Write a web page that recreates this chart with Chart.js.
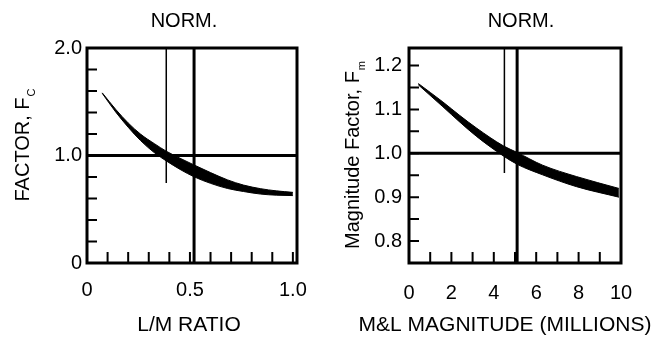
<!DOCTYPE html>
<html>
<head>
<meta charset="utf-8">
<script src="https://cdn.jsdelivr.net/npm/chart.js@4.4.1/dist/chart.umd.min.js"></script>
<style>
html, body { margin: 0; padding: 0; background: #fff; }
#wrap { position: relative; width: 659px; height: 338px; }
canvas { position: absolute; top: 0; }
</style>
</head>
<body>
<div id="wrap">
  <canvas id="lmChart" width="330" height="338" style="left:0px"></canvas>
  <canvas id="mgChart" width="329" height="338" style="left:330px"></canvas>
</div>
<script>
// left panel: L/M ratio -> factor Fc (band between two curves)
const lmRatio = [0.074, 0.14, 0.2, 0.26, 0.329, 0.385, 0.457, 0.52, 0.6, 0.683, 0.76, 0.844, 0.92, 1.0];
const fcUpper = [1.583, 1.428, 1.303, 1.199, 1.108, 1.04, 0.97, 0.912, 0.841, 0.773, 0.725, 0.691, 0.671, 0.657];
const fcLower = [1.578, 1.403, 1.263, 1.139, 1.023, 0.95, 0.865, 0.802, 0.741, 0.693, 0.665, 0.641, 0.631, 0.627];
const lmRange = [0, 1.02];
const fcRange = [0, 2.0];
const lmNormX = 0.52;
const lmMarkX = 0.385;
const lmMarkY = [2.0, 0.745];
const lmTickLabels = [0, 0.5, 1.0];
const fcTickLabels = [0, 1.0, 2.0];

// right panel: M&L magnitude -> magnitude factor Fm
const mlMagnitude = [0.44, 1.6, 2.4, 3.2, 4.45, 5.1, 6.3, 7.9, 9.9];
const fmUpper = [1.159, 1.117, 1.086, 1.057, 1.017, 1.002, 0.973, 0.947, 0.92];
const fmLower = [1.156, 1.106, 1.071, 1.038, 0.994, 0.975, 0.951, 0.924, 0.90];
const mgRange = [0, 10];
const fmRange = [0.75, 1.24];
const mgNormX = 5.1;
const mgMarkX = 4.5;
const mgMarkY = [1.24, 0.955];
const mgTickLabels = [0, 2, 4, 6, 8, 10];
const fmTickLabels = [0.8, 0.9, 1.0, 1.1, 1.2];

Chart.defaults.font.family = '"Liberation Sans", Arial, sans-serif';
Chart.defaults.color = '#000';

const FONT = '"Liberation Sans", Arial, sans-serif';

// box round the plot, inward tick marks, and the titles (y title needs a subscript)
const frameText = {
    id: 'frameText',
    afterDatasetsDraw(chart, args, o) {
        const { ctx, chartArea: a, scales } = chart;
        ctx.save();
        ctx.strokeStyle = '#000';
        ctx.lineWidth = 2;
        ctx.beginPath();
        scales.x.ticks.forEach(t => {
            const p = scales.x.getPixelForValue(t.value);
            ctx.moveTo(p, a.bottom);
            ctx.lineTo(p, a.bottom - 11);
        });
        scales.y.ticks.forEach(t => {
            const p = scales.y.getPixelForValue(t.value);
            ctx.moveTo(a.left, p);
            ctx.lineTo(a.left + 10, p);
        });
        ctx.stroke();

        ctx.lineWidth = 3;
        ctx.strokeRect(a.left, a.top, a.right - a.left, a.bottom - a.top);

        ctx.fillStyle = '#000';
        ctx.textAlign = 'center';
        ctx.textBaseline = 'alphabetic';
        ctx.font = '20px ' + FONT;
        ctx.fillText(o.top, o.topX, 27);
        ctx.font = '21px ' + FONT;
        ctx.fillText(o.xTitle, o.xTitleX, 331);

        ctx.translate(o.yTitleX, o.yTitleY);
        ctx.rotate(-Math.PI / 2);
        ctx.font = '20px ' + FONT;
        const w = ctx.measureText(o.yTitle).width;
        ctx.font = '11px ' + FONT;
        const ws = ctx.measureText(o.sub).width;
        const start = -(w + ws + 1) / 2;
        ctx.textAlign = 'left';
        ctx.font = '20px ' + FONT;
        ctx.fillText(o.yTitle, start, 0);
        ctx.font = '11px ' + FONT;
        ctx.fillText(o.sub, start + w + 1, 6);
        ctx.restore();
    }
};

function pts(xs, ys) {
    return xs.map((x, i) => ({ x: x, y: ys[i] }));
}

function labelOnly(list, fmt) {
    return function (v) {
        const hit = list.find(l => Math.abs(l - v) < 1e-6);
        return hit === undefined ? '' : fmt(hit);
    };
}

function axis(range, step, labels, fmt, pad, fit) {
    return {
        type: 'linear',
        min: range[0],
        max: range[1],
        ticks: {
            stepSize: step,
            includeBounds: false,
            autoSkip: false,
            maxRotation: 0,
            padding: pad,
            font: { size: 20 },
            callback: labelOnly(labels, fmt)
        },
        grid: { display: false, drawTicks: false },
        border: { display: false },
        afterFit: fit
    };
}

function band(xs, up, low) {
    return [
        { data: pts(xs, up), borderColor: '#000', borderWidth: 1, pointRadius: 0,
          cubicInterpolationMode: 'monotone', fill: false },
        { data: pts(xs, low), borderColor: '#000', borderWidth: 1, pointRadius: 0,
          cubicInterpolationMode: 'monotone', fill: '-1', backgroundColor: '#000' }
    ];
}

function refLine(data, width) {
    return { data: data, borderColor: '#000', borderWidth: width, pointRadius: 0, fill: false };
}

const oneDec = v => v === 0 ? '0' : v.toFixed(1);

new Chart(document.getElementById('lmChart'), {
    type: 'line',
    data: {
        datasets: band(lmRatio, fcUpper, fcLower).concat([
            refLine([{ x: lmRange[0], y: 1.0 }, { x: lmRange[1], y: 1.0 }], 3),
            refLine([{ x: lmNormX, y: fcRange[0] }, { x: lmNormX, y: fcRange[1] }], 3),
            refLine([{ x: lmMarkX, y: lmMarkY[0] }, { x: lmMarkX, y: lmMarkY[1] }], 1.5)
        ])
    },
    options: {
        responsive: false,
        animation: false,
        layout: { padding: { top: 48, right: 33, left: 0, bottom: 0 } },
        plugins: {
            legend: { display: false },
            tooltip: { enabled: false },
            frameText: {
                top: 'NORM.', topX: 184,
                xTitle: 'L/M RATIO', xTitleX: 189,
                yTitle: 'FACTOR, F', sub: 'C', yTitleX: 29, yTitleY: 145
            }
        },
        scales: {
            x: axis(lmRange, 0.1, lmTickLabels, oneDec, 15, s => { s.height = 75; }),
            y: axis(fcRange, 0.2, fcTickLabels, oneDec, 5, s => { s.width = 87; })
        }
    },
    plugins: [frameText]
});

new Chart(document.getElementById('mgChart'), {
    type: 'line',
    data: {
        datasets: band(mlMagnitude, fmUpper, fmLower).concat([
            refLine([{ x: mgRange[0], y: 1.0 }, { x: mgRange[1], y: 1.0 }], 3),
            refLine([{ x: mgNormX, y: fmRange[0] }, { x: mgNormX, y: fmRange[1] }], 3),
            refLine([{ x: mgMarkX, y: mgMarkY[0] }, { x: mgMarkX, y: mgMarkY[1] }], 1.5)
        ])
    },
    options: {
        responsive: false,
        animation: false,
        layout: { padding: { top: 48, right: 38, left: 0, bottom: 0 } },
        plugins: {
            legend: { display: false },
            tooltip: { enabled: false },
            frameText: {
                top: 'NORM.', topX: 191,
                xTitle: 'M&L MAGNITUDE (MILLIONS)', xTitleX: 175,
                yTitle: 'Magnitude Factor, F', sub: 'm', yTitleX: 29, yTitleY: 155
            }
        },
        scales: {
            x: axis(mgRange, 1, mgTickLabels, v => String(v), 18, s => { s.height = 75; }),
            y: axis(fmRange, 0.05, fmTickLabels, v => v.toFixed(1), 7, s => { s.width = 79; })
        }
    },
    plugins: [frameText]
});
</script>
</body>
</html>
